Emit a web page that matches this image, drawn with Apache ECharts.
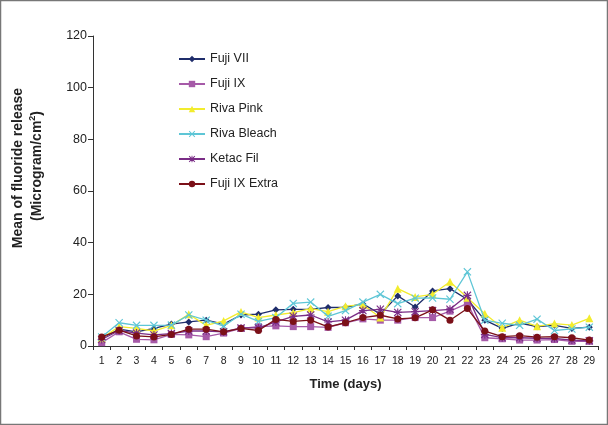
<!DOCTYPE html>
<html>
<head>
<meta charset="utf-8">
<script src="https://cdn.jsdelivr.net/npm/echarts@6/dist/echarts.min.js"></script>
<style>html,body{margin:0;padding:0;background:#fff}#c{width:608px;height:425px}</style>
</head>
<body>
<div id="c"></div>
<script>
const days = ['1','2','3','4','5','6','7','8','9','10','11','12','13','14','15','16','17','18','19','20','21','22','23','24','25','26','27','28','29'];
const yTicks = [0, 20, 40, 60, 80, 100, 120];
const fujiVII = [3, 6.5, 5.5, 6.8, 8.5, 9.3, 10, 8.5, 12, 12.3, 14, 14.2, 14.2, 14.9, 15, 16.3, 12.4, 19.4, 15.1, 21.3, 22.2, 18, 10, 6.8, 8.9, 7.5, 8, 6.8, 7.3];
const fujiIX = [1.3, 5.5, 2.6, 2.4, 4.5, 4.3, 3.6, 5, 6.8, 7.5, 7.8, 7.5, 7.5, 7.2, 9, 10.5, 10, 10, 11, 11, 13.5, 16.5, 3.2, 2.8, 2.3, 2.3, 2.5, 1.8, 1.8];
const rivaPink = [3, 7.5, 6.8, 5.8, 8, 12.3, 8, 9.7, 13.2, 11, 12, 12.9, 14.5, 13.3, 15.4, 16, 11, 22.2, 19, 20, 24.9, 18.7, 12.5, 7.1, 10, 7.6, 8.7, 8.1, 10.7];
const rivaBleach = [3.5, 9, 8, 8, 8.1, 12, 10, 7.7, 12.3, 9.5, 11, 16.5, 17, 11.5, 13.7, 17, 20, 16.4, 18.5, 18.6, 18.1, 28.7, 10, 8.8, 8, 10.4, 6, 6.6, 7.3];
const ketacFil = [2.5, 6, 5, 4.3, 4.8, 5.8, 5.8, 5.5, 7, 7, 9.3, 11.5, 12, 9.3, 10, 13.7, 14.2, 13, 13.3, 13.7, 14.2, 19.6, 4.5, 3.2, 3.2, 3, 2.9, 2.3, 2];
const fujiIXExtra = [3.5, 6.1, 3.9, 3.5, 4.5, 6.5, 6.5, 5.5, 6.8, 6, 10.3, 9.5, 10, 7.4, 9, 11, 11.9, 10.5, 10.9, 14, 10, 14.5, 5.8, 3.6, 4, 3.4, 3.6, 3.2, 2.3];

const seriesNames = ['Fuji VII', 'Fuji IX', 'Riva Pink', 'Riva Bleach', 'Ketac Fil', 'Fuji IX Extra'];
const seriesData = [fujiVII, fujiIX, rivaPink, rivaBleach, ketacFil, fujiIXExtra];
const colors = ['#1f2d6b', '#a65aa8', '#f2ec2e', '#5ec6d6', '#7a2d86', '#7b1018'];
const xPath = 'path://M1,0 L5,4 L9,0 L10,1 L6,5 L10,9 L9,10 L5,6 L1,10 L0,9 L4,5 L0,1 Z';
const starPath = 'path://M1,0 L5,4 L9,0 L10,1 L6,5 L10,9 L9,10 L5,6 L1,10 L0,9 L4,5 L0,1 Z M4.3,0 L5.7,0 L5.7,10 L4.3,10 Z M0,4.3 L10,4.3 L10,5.7 L0,5.7 Z';
const symbols = ['diamond', 'rect', 'triangle', xPath, starPath, 'circle'];
const sizes = [7, 7, 8, 8, 8, 7];
const font = 'Arial, Liberation Sans';

const chart = echarts.init(document.getElementById('c'), null, {renderer: 'canvas'});
chart.setOption({
  animation: false,
  backgroundColor: '#fff',
  grid: {left: 93, right: 10, top: 36, bottom: 79, containLabel: false},
  legend: {
    orient: 'vertical', left: 173, top: 47, itemGap: 11,
    itemWidth: 26, itemHeight: 8,
    textStyle: {fontFamily: font, fontSize: 12.5, color: '#222', lineHeight: 14},
    data: seriesNames
  },
  xAxis: {
    type: 'category', data: days, boundaryGap: true,
    axisLine: {lineStyle: {color: '#333', width: 1}},
    axisTick: {show: true, length: 4, lineStyle: {color: '#333'}},
    axisLabel: {fontFamily: font, fontSize: 10.5, color: '#222', margin: 10, interval: 0},
    name: 'Time (days)', nameLocation: 'middle', nameGap: 32,
    nameTextStyle: {fontFamily: font, fontSize: 13, fontWeight: 'bold', color: '#222'}
  },
  yAxis: {
    type: 'value', min: yTicks[0], max: yTicks[yTicks.length - 1], interval: 20,
    splitLine: {show: false},
    axisLine: {show: true, lineStyle: {color: '#333', width: 1}},
    axisTick: {show: true, length: 5, lineStyle: {color: '#333'}},
    axisLabel: {fontFamily: font, fontSize: 12.5, color: '#222', margin: 6}
  },
  series: seriesNames.map((n, i) => ({
    name: n, type: 'line', data: seriesData[i],
    symbol: symbols[i], symbolSize: sizes[i], showAllSymbol: true,
    lineStyle: {color: colors[i], width: 1.3},
    itemStyle: {color: colors[i]},
    z: 2 + i
  })),
  graphic: [
    {
      type: 'rect', shape: {x: 0.5, y: 0.5, width: 607, height: 424},
      style: {fill: 'none', stroke: '#777', lineWidth: 1.5}, silent: true
    },
    {
      type: 'text', x: 18, y: 168, rotation: Math.PI / 2, silent: true,
      style: {text: 'Mean of fluoride release', font: 'bold 14px Arial, Liberation Sans', fill: '#222', align: 'center', verticalAlign: 'middle'}
    },
    {
      type: 'text', x: 37, y: 166, rotation: Math.PI / 2, silent: true,
      style: {
        text: '{a|(Microgram/cm}{s|2}{a|)}', align: 'center', verticalAlign: 'middle',
        rich: {
          a: {font: 'bold 14px Arial, Liberation Sans', fill: '#222'},
          s: {font: 'bold 9px Arial, Liberation Sans', fill: '#222', verticalAlign: 'top', padding: [0, 0, 8, 0]}
        }
      }
    }
  ]
});
</script>
</body>
</html>
